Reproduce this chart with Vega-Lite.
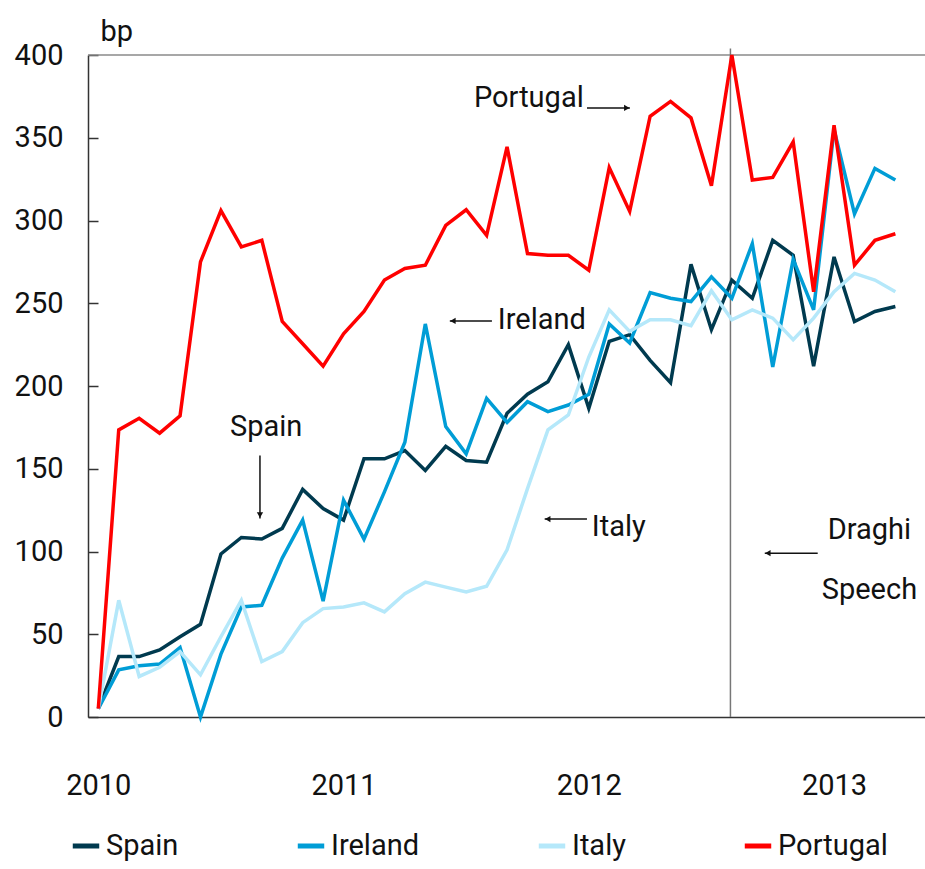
{
  "$schema": "https://vega.github.io/schema/vega-lite/v6.json",
  "autosize": {"type": "none"},
  "width": 837,
  "height": 662,
  "padding": {"left": 88, "top": 55, "right": 0, "bottom": 152},
  "background": "white",
  "config": {
    "view": {"stroke": null},
    "font": "Roboto",
    "axis": {"grid": false, "domainColor": "#333333", "domainWidth": 1.5, "tickColor": "#333333", "tickWidth": 1.5, "labelColor": "#111111", "labelFont": "Roboto", "labelFontSize": 29, "labelFlush": false, "titleFont": "Roboto"},
    "legend": {"labelFont": "Roboto", "labelFontSize": 29, "labelColor": "#111111"}
  },
  "datasets": {
    "series": [
      {"country":"Spain","m":0,"v":5},{"country":"Spain","m":1,"v":36.5},{"country":"Spain","m":2,"v":36.5},{"country":"Spain","m":3,"v":40.5},{"country":"Spain","m":4,"v":48.5},{"country":"Spain","m":5,"v":56},{"country":"Spain","m":6,"v":98.5},{"country":"Spain","m":7,"v":108.5},{"country":"Spain","m":8,"v":107.5},{"country":"Spain","m":9,"v":114},{"country":"Spain","m":10,"v":137.5},{"country":"Spain","m":11,"v":126},{"country":"Spain","m":12,"v":119},{"country":"Spain","m":13,"v":156},{"country":"Spain","m":14,"v":156},{"country":"Spain","m":15,"v":161},{"country":"Spain","m":16,"v":149},{"country":"Spain","m":17,"v":163.5},{"country":"Spain","m":18,"v":155},{"country":"Spain","m":19,"v":154},{"country":"Spain","m":20,"v":183.5},{"country":"Spain","m":21,"v":195},{"country":"Spain","m":22,"v":202.5},{"country":"Spain","m":23,"v":225},{"country":"Spain","m":24,"v":186.5},{"country":"Spain","m":25,"v":227},{"country":"Spain","m":26,"v":231},{"country":"Spain","m":27,"v":215.5},{"country":"Spain","m":28,"v":202},{"country":"Spain","m":29,"v":273.5},{"country":"Spain","m":30,"v":234},{"country":"Spain","m":31,"v":264},{"country":"Spain","m":32,"v":253},{"country":"Spain","m":33,"v":288},{"country":"Spain","m":34,"v":279},{"country":"Spain","m":35,"v":212},{"country":"Spain","m":36,"v":278},{"country":"Spain","m":37,"v":239},{"country":"Spain","m":38,"v":245},{"country":"Spain","m":39,"v":248},
      {"country":"Ireland","m":0,"v":5},{"country":"Ireland","m":1,"v":28.5},{"country":"Ireland","m":2,"v":31},{"country":"Ireland","m":3,"v":32},{"country":"Ireland","m":4,"v":42},{"country":"Ireland","m":5,"v":0},{"country":"Ireland","m":6,"v":38},{"country":"Ireland","m":7,"v":66.5},{"country":"Ireland","m":8,"v":67.5},{"country":"Ireland","m":9,"v":96},{"country":"Ireland","m":10,"v":119},{"country":"Ireland","m":11,"v":70},{"country":"Ireland","m":12,"v":131},{"country":"Ireland","m":13,"v":107.5},{"country":"Ireland","m":14,"v":136},{"country":"Ireland","m":15,"v":166},{"country":"Ireland","m":16,"v":237.5},{"country":"Ireland","m":17,"v":175.5},{"country":"Ireland","m":18,"v":159},{"country":"Ireland","m":19,"v":192.5},{"country":"Ireland","m":20,"v":178},{"country":"Ireland","m":21,"v":190.5},{"country":"Ireland","m":22,"v":184.5},{"country":"Ireland","m":23,"v":188.5},{"country":"Ireland","m":24,"v":195},{"country":"Ireland","m":25,"v":237.5},{"country":"Ireland","m":26,"v":226},{"country":"Ireland","m":27,"v":256.5},{"country":"Ireland","m":28,"v":253},{"country":"Ireland","m":29,"v":251},{"country":"Ireland","m":30,"v":266},{"country":"Ireland","m":31,"v":253},{"country":"Ireland","m":32,"v":286},{"country":"Ireland","m":33,"v":211.5},{"country":"Ireland","m":34,"v":276.5},{"country":"Ireland","m":35,"v":246},{"country":"Ireland","m":36,"v":355},{"country":"Ireland","m":37,"v":304},{"country":"Ireland","m":38,"v":331.5},{"country":"Ireland","m":39,"v":324.5},
      {"country":"Italy","m":0,"v":5},{"country":"Italy","m":1,"v":70.5},{"country":"Italy","m":2,"v":24.5},{"country":"Italy","m":3,"v":30},{"country":"Italy","m":4,"v":39.5},{"country":"Italy","m":5,"v":25.5},{"country":"Italy","m":6,"v":48.5},{"country":"Italy","m":7,"v":70.5},{"country":"Italy","m":8,"v":33.5},{"country":"Italy","m":9,"v":39.5},{"country":"Italy","m":10,"v":57},{"country":"Italy","m":11,"v":65.5},{"country":"Italy","m":12,"v":66.5},{"country":"Italy","m":13,"v":69},{"country":"Italy","m":14,"v":63.5},{"country":"Italy","m":15,"v":74.5},{"country":"Italy","m":16,"v":81.5},{"country":"Italy","m":17,"v":78.5},{"country":"Italy","m":18,"v":75.5},{"country":"Italy","m":19,"v":79},{"country":"Italy","m":20,"v":101},{"country":"Italy","m":21,"v":138},{"country":"Italy","m":22,"v":173.5},{"country":"Italy","m":23,"v":182.5},{"country":"Italy","m":24,"v":217.5},{"country":"Italy","m":25,"v":246},{"country":"Italy","m":26,"v":233},{"country":"Italy","m":27,"v":240},{"country":"Italy","m":28,"v":240},{"country":"Italy","m":29,"v":236.5},{"country":"Italy","m":30,"v":257.5},{"country":"Italy","m":31,"v":240},{"country":"Italy","m":32,"v":246},{"country":"Italy","m":33,"v":241},{"country":"Italy","m":34,"v":228},{"country":"Italy","m":35,"v":241},{"country":"Italy","m":36,"v":257},{"country":"Italy","m":37,"v":268},{"country":"Italy","m":38,"v":264},{"country":"Italy","m":39,"v":257},
      {"country":"Portugal","m":0,"v":5},{"country":"Portugal","m":1,"v":173.5},{"country":"Portugal","m":2,"v":180.5},{"country":"Portugal","m":3,"v":171.5},{"country":"Portugal","m":4,"v":182},{"country":"Portugal","m":5,"v":275},{"country":"Portugal","m":6,"v":306},{"country":"Portugal","m":7,"v":284},{"country":"Portugal","m":8,"v":288},{"country":"Portugal","m":9,"v":239},{"country":"Portugal","m":10,"v":225.5},{"country":"Portugal","m":11,"v":212},{"country":"Portugal","m":12,"v":231.5},{"country":"Portugal","m":13,"v":245},{"country":"Portugal","m":14,"v":264},{"country":"Portugal","m":15,"v":271},{"country":"Portugal","m":16,"v":273},{"country":"Portugal","m":17,"v":297},{"country":"Portugal","m":18,"v":306.5},{"country":"Portugal","m":19,"v":291},{"country":"Portugal","m":20,"v":344.5},{"country":"Portugal","m":21,"v":280},{"country":"Portugal","m":22,"v":279},{"country":"Portugal","m":23,"v":279},{"country":"Portugal","m":24,"v":270},{"country":"Portugal","m":25,"v":332},{"country":"Portugal","m":26,"v":305.5},{"country":"Portugal","m":27,"v":363},{"country":"Portugal","m":28,"v":372},{"country":"Portugal","m":29,"v":362},{"country":"Portugal","m":30,"v":321},{"country":"Portugal","m":31,"v":400},{"country":"Portugal","m":32,"v":324.5},{"country":"Portugal","m":33,"v":326},{"country":"Portugal","m":34,"v":347.5},{"country":"Portugal","m":35,"v":257},{"country":"Portugal","m":36,"v":357.5},{"country":"Portugal","m":37,"v":273},{"country":"Portugal","m":38,"v":288},{"country":"Portugal","m":39,"v":292}
    ],
    "notes": [
      {"label":"Portugal","m":18.38,"v":374,"align":"left"},
      {"label":"Ireland","m":19.55,"v":240,"align":"left"},
      {"label":"Spain","m":6.44,"v":175,"align":"left"},
      {"label":"Italy","m":24.15,"v":115,"align":"left"},
      {"label":"Draghi","m":37.73,"v":113,"align":"center"},
      {"label":"Speech","m":37.73,"v":76.5,"align":"center"}
    ],
    "arrows": [
      {"name":"Portugal","m1":23.91,"m2":26.01,"v1":368,"v2":368,"hm":25.86,"hv":368,"shape":"triangle-right"},
      {"name":"Ireland","m1":19.26,"m2":17.2,"v1":239.3,"v2":239.3,"hm":17.35,"hv":239.3,"shape":"triangle-left"},
      {"name":"Spain","m1":7.91,"m2":7.91,"v1":158,"v2":120,"hm":7.91,"hv":122,"shape":"triangle-down"},
      {"name":"Italy","m1":23.91,"m2":21.84,"v1":119.6,"v2":119.6,"hm":21.99,"hv":119.6,"shape":"triangle-left"},
      {"name":"Draghi","m1":35.2,"m2":32.61,"v1":99,"v2":99,"hm":32.76,"hv":99,"shape":"triangle-left"}
    ],
    "events": [{"event":"Draghi speech","m":30.93,"v0":0,"v1":404}],
    "frame": [{"v":400}]
  },
  "layer": [
    {
      "data": {"name": "frame"},
      "mark": {"type": "rule", "color": "#8a8a8a", "strokeWidth": 1.5},
      "encoding": {"y": {"field": "v", "type": "quantitative", "scale": {"domain": [0, 400]}}}
    },
    {
      "data": {"name": "events"},
      "mark": {"type": "rule", "color": "#777777", "strokeWidth": 1.5, "clip": false},
      "encoding": {
        "x": {"field": "m", "type": "quantitative"},
        "y": {"field": "v0", "type": "quantitative"},
        "y2": {"field": "v1"}
      }
    },
    {
      "data": {"name": "series"},
      "mark": {"type": "line", "strokeWidth": 3.5, "strokeJoin": "miter"},
      "encoding": {
        "x": {"field": "m", "type": "quantitative", "scale": {"domain": [-0.504, 40.45], "nice": false, "zero": false},
              "axis": {"title": null, "values": [0, 12, 24, 36], "labelExpr": "'' + (2010 + datum.value / 12)", "ticks": false, "labelPadding": 54}},
        "y": {"field": "v", "type": "quantitative", "scale": {"domain": [0, 400], "nice": false},
              "axis": {"title": "bp", "titleAngle": 0, "titleAlign": "left", "titleBaseline": "alphabetic", "titleX": 12, "titleY": -15, "titleFontSize": 29, "titleFontWeight": "normal", "titleColor": "#111111",
                       "values": [0, 50, 100, 150, 200, 250, 300, 350, 400], "tickSize": -10, "labelPadding": 35}},
        "color": {"field": "country", "type": "nominal",
                  "scale": {"domain": ["Spain", "Ireland", "Italy", "Portugal"], "range": ["#003A4F", "#009DD6", "#B5E8FA", "#FF0000"]},
                  "legend": {"title": null, "orient": "none", "direction": "horizontal", "legendX": -18, "legendY": 775, "symbolType": "stroke", "symbolSize": 700, "symbolStrokeWidth": 5, "labelOffset": 4, "columnPadding": 108}},
        "order": {"field": "m", "type": "quantitative"}
      }
    },
    {
      "data": {"name": "arrows"},
      "mark": {"type": "rule", "color": "#111111", "strokeWidth": 1.5},
      "encoding": {
        "x": {"field": "m1", "type": "quantitative"},
        "x2": {"field": "m2"},
        "y": {"field": "v1", "type": "quantitative"},
        "y2": {"field": "v2"}
      }
    },
    {
      "data": {"name": "arrows"},
      "mark": {"type": "point", "filled": true, "color": "#111111", "size": 40, "opacity": 1},
      "encoding": {
        "x": {"field": "hm", "type": "quantitative"},
        "y": {"field": "hv", "type": "quantitative"},
        "shape": {"field": "shape", "type": "nominal", "scale": null, "legend": null}
      }
    },
    {
      "data": {"name": "notes"},
      "transform": [{"filter": "datum.align == 'left'"}],
      "mark": {"type": "text", "align": "left", "baseline": "middle", "fontSize": 29, "font": "Roboto", "color": "#111111"},
      "encoding": {
        "x": {"field": "m", "type": "quantitative"},
        "y": {"field": "v", "type": "quantitative"},
        "text": {"field": "label"}
      }
    },
    {
      "data": {"name": "notes"},
      "transform": [{"filter": "datum.align == 'center'"}],
      "mark": {"type": "text", "align": "center", "baseline": "middle", "fontSize": 29, "font": "Roboto", "color": "#111111"},
      "encoding": {
        "x": {"field": "m", "type": "quantitative"},
        "y": {"field": "v", "type": "quantitative"},
        "text": {"field": "label"}
      }
    }
  ]
}
